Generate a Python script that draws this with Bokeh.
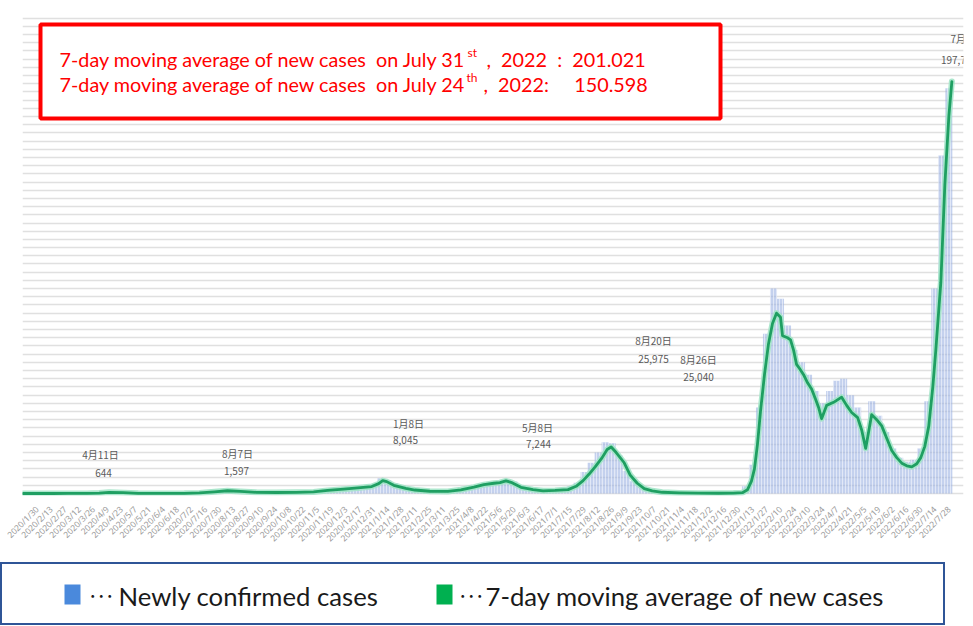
import datetime as dt
from bokeh.plotting import figure
from bokeh.models import (FixedTicker, SingleIntervalTicker, Range1d, Label, BoxAnnotation)
from bokeh.layouts import column, row
from bokeh.embed import file_html
from bokeh.resources import INLINE
from bokeh.core.properties import value
from math import pi

# ---------------- data ----------------
START = dt.date(2020, 1, 16)

# newly confirmed cases, one bar per week (centred on START + 7k)
bar_values = [
    1, 1, 3, 2, 10, 15, 20, 35, 50, 45, 110, 250, 600, 550, 400, 200, 90, 60, 30, 40,
    40, 50, 60, 100, 190, 330, 600, 950, 1450, 1550, 1200, 1050, 850, 650, 600, 580, 520, 600, 610, 650,
    720, 800, 1050, 1650, 2300, 2500, 2450, 2900, 3200, 3700, 4500, 7500, 6500, 5000, 3600, 2500, 1700, 1400, 1200, 1150,
    1300, 1500, 1900, 2600, 3300, 4300, 5200, 5600, 6000, 6900, 5800, 4000, 2800, 2100, 1700, 1750, 1900, 2300, 3400, 5200,
    10500, 15000, 20000, 25000, 24500, 18500, 11000, 6000, 3500, 1800, 1000, 700, 400, 280, 230, 200, 180, 130, 120, 150,
    200, 300, 700, 3500, 14000, 42000, 78000, 100000, 95000, 82000, 70000, 64000, 58000, 50000, 44000, 50000, 55000, 56000, 48000, 42000,
    30000, 45000, 38000, 30000, 22000, 17500, 15500, 16500, 22000, 45000, 100000, 165000, 197750,
]

# 7-day moving average of new cases
line_dates = [
    "2020-01-16", "2020-02-15", "2020-03-01", "2020-03-20", "2020-04-01", "2020-04-11", "2020-04-25",
    "2020-05-10", "2020-06-01", "2020-06-25", "2020-07-10", "2020-07-25", "2020-08-07", "2020-08-20",
    "2020-09-05", "2020-09-25", "2020-10-15", "2020-11-01", "2020-11-15", "2020-12-01", "2020-12-15",
    "2020-12-29", "2021-01-05", "2021-01-09", "2021-01-13", "2021-01-20", "2021-02-01", "2021-02-10",
    "2021-02-25", "2021-03-15", "2021-03-28", "2021-04-10", "2021-04-20", "2021-04-30", "2021-05-06",
    "2021-05-12", "2021-05-18", "2021-05-27", "2021-06-08", "2021-06-18", "2021-06-30", "2021-07-13",
    "2021-07-21", "2021-07-28", "2021-08-03", "2021-08-09", "2021-08-16", "2021-08-21", "2021-08-25",
    "2021-08-30", "2021-09-07", "2021-09-13", "2021-09-20", "2021-09-27", "2021-10-05", "2021-10-15",
    "2021-11-01", "2021-11-20", "2021-12-10", "2021-12-25", "2022-01-03", "2022-01-08", "2022-01-12",
    "2022-01-15", "2022-01-18", "2022-01-21", "2022-01-25", "2022-01-29", "2022-02-02", "2022-02-06",
    "2022-02-10", "2022-02-12", "2022-02-17", "2022-02-20", "2022-02-23", "2022-02-26", "2022-03-01",
    "2022-03-05", "2022-03-09", "2022-03-13", "2022-03-17", "2022-03-20", "2022-03-23", "2022-03-28",
    "2022-04-04", "2022-04-12", "2022-04-17", "2022-04-22", "2022-04-28", "2022-05-02", "2022-05-06",
    "2022-05-12", "2022-05-17", "2022-05-22", "2022-05-27", "2022-06-01", "2022-06-06", "2022-06-11",
    "2022-06-16", "2022-06-21", "2022-06-26", "2022-06-30", "2022-07-04", "2022-07-08", "2022-07-12",
    "2022-07-15", "2022-07-18", "2022-07-20", "2022-07-24", "2022-07-28", "2022-07-31",
]
line_values = [
    0, 5, 15, 40, 200, 560, 380,
    90, 40, 90, 300, 800, 1350, 1000,
    560, 500, 570, 750, 1500, 2100, 2700,
    3400, 4800, 6300, 5800, 4000, 2500, 1700,
    1100, 1000, 1800, 3100, 4300, 5000, 5300,
    6200, 5300, 3000, 1900, 1300, 1500, 1900,
    3500, 6300, 9500, 13000, 17500, 21500, 22700,
    20000, 15000, 9000, 5000, 2400, 1300, 600,
    300, 150, 130, 230, 400, 1800, 6000,
    12000, 24000, 40000, 58000, 73000, 83000, 88000,
    86000, 77000, 76000, 75000, 70000, 63000, 61000,
    58000, 54000, 51000, 46000, 42000, 36500, 43000,
    44500, 47000, 43000, 39500, 37000, 31000, 22000,
    38500, 36000, 33000, 27000, 21000, 17500, 14800,
    13500, 13000, 14500, 17500, 23000, 33000, 52000,
    70000, 90000, 103000, 150598, 184000, 201021,
]

# peak annotations (text shown on the chart)
ann_dates = ["4月11日", "8月7日", "1月8日", "5月8日", "8月20日", "8月26日"]
ann_counts = ["644", "1,597", "8,045", "7,244", "25,975", "25,040"]
last_date, last_count = "7月3", "197,75"

NB = "\u00a0"
box_line1 = ["7-day moving average of new cases" + NB + NB + "on July 31", "st",
             "," + NB + NB + "2022" + NB + NB + ":" + NB + NB + "201.021"]
box_line2 = ["7-day moving average of new cases" + NB + NB + "on July 24", "th",
             "," + NB + NB + "2022:" + NB + NB + NB + NB + NB + "150.598"]

legend_labels = ["Newly confirmed cases", "7-day moving average of new cases"]
legend_colors = ["#4a89dc", "#00b050"]

# ---------------- geometry (layout only) ----------------
FIG_W, FIG_H = 972, 562
MB_L, MB_R, MB_T = 22, 9, 12
FRAME_H = 483
MB_B = FIG_H - MB_T - FRAME_H
FL, FT = MB_L, MB_T
FW = FIG_W - MB_L - MB_R
X0 = -0.5
X1 = X0 + FW / 1.002
Y0 = -976
Y1 = Y0 + FRAME_H * 488
BASE_FIX = 8   # alphabetic-baseline correction of Label text in the svg output


def px(xp, yp):
    """page pixel -> data coordinates (annotation placement only)"""
    xd = X0 + (xp - FL) * (X1 - X0) / FW
    yd = Y1 - (yp - FT) * (Y1 - Y0) / FRAME_H
    return xd, yd


def day(s):
    return (dt.date.fromisoformat(s) - START).days


# ---------------- main figure ----------------
p = figure(width=FIG_W, height=FIG_H, output_backend="svg", toolbar_location=None,
           x_range=Range1d(X0, X1), y_range=Range1d(Y0, Y1),
           y_axis_location=None, min_border_left=MB_L, min_border_right=MB_R,
           min_border_top=MB_T, min_border_bottom=MB_B)
p.outline_line_color = None
p.background_fill_color = "white"
p.border_fill_color = "white"
p.xgrid.visible = False
p.ygrid.ticker = SingleIntervalTicker(interval=4000, num_minor_ticks=0)
p.ygrid.grid_line_color = "#e0e0e0"
p.ygrid.grid_line_width = 1.6

bar_x = [7 * k for k in range(len(bar_values))]
p.vbar(x=bar_x, top=bar_values, width=7, fill_color="#9db3e3", fill_alpha=0.6,
       line_color=None, hatch_pattern="|", hatch_color="white", hatch_alpha=0.5,
       hatch_scale=3, hatch_weight=1)

lx = [day(s) for s in line_dates]
p.line(lx, line_values, line_color="#a3e4c8", line_width=6, line_alpha=0.9,
       line_join="round", line_cap="round")
p.line(lx, line_values, line_color="#1f9f62", line_width=2.8,
       line_join="round", line_cap="round")

# x axis: date labels every 14 days
ticks = list(range(14, 925, 14))
p.xaxis.ticker = FixedTicker(ticks=ticks)
labels = {}
for t in ticks:
    d = START + dt.timedelta(days=t)
    labels[t] = f"{d.year}/{d.month}/{d.day}"
p.xaxis.major_label_overrides = labels
p.xaxis.major_label_orientation = pi / 4
p.xaxis.major_label_text_font_size = "8.5px"
p.xaxis.major_label_text_color = "#9a9a9a"
p.xaxis.major_label_text_font = "Noto Sans"
p.xaxis.axis_line_color = None
p.xaxis.major_tick_line_color = None
p.xaxis.minor_tick_line_color = None
p.xaxis.major_label_standoff = 6

# peak annotations
ann_px = [(100, 454, 103, 472), (237, 453, 236, 470), (408, 423, 405, 439),
          (537, 427, 538, 443), (653, 340, 653, 358), (698, 359, 698, 376)]
tx, ty, tt = [], [], []
for (a, b, c, d), t1, t2 in zip(ann_px, ann_dates, ann_counts):
    x1, y1 = px(a, b)
    x2, y2 = px(c, d)
    tx += [x1, x2]
    ty += [y1, y2]
    tt += [t1, t2]
p.text(x=tx, y=ty, text=tt, text_align="center", text_baseline="middle",
       text_font=value("Noto Sans CJK JP"), text_font_size="10px", text_color="#5a5a5a")

for txt, (xp, yp) in ((last_date, (971, 38)), (last_count, (971, 59))):
    xd, yd = px(xp, yp)
    p.add_layout(Label(x=xd, y=yd, text=txt, text_align="right", text_baseline="middle",
                       text_font="Noto Sans CJK JP", text_font_size="10px",
                       text_color="#5a5a5a"))

# red box
bl, bt = px(40, 24)
br, bb = px(720, 118)
p.add_layout(BoxAnnotation(left=bl, right=br, top=bt, bottom=bb, fill_color="white",
                           fill_alpha=1, line_color="#ff0000", line_alpha=1, line_width=4))

for line, base_y, xs in ((box_line1, 66, (59, 467, 486)), (box_line2, 91, (59, 466, 483))):
    for i, (piece, xp) in enumerate(zip(line, xs)):
        sup = (i == 1)
        xd, yd = px(xp, base_y - BASE_FIX - (6 if sup else 0))
        p.add_layout(Label(x=xd, y=yd, text=piece, text_font="Lato",
                           text_font_size="12px" if sup else "19.8px",
                           text_color="#ff0000", text_baseline="alphabetic",
                           text_align="left"))

# ---------------- legend figure ----------------
LW, LH = 945, 63
leg = figure(width=LW, height=LH, output_backend="svg", toolbar_location=None,
             x_range=Range1d(0, LW), y_range=Range1d(0, LH),
             x_axis_location=None, y_axis_location=None,
             min_border=0, min_border_left=0, min_border_right=0,
             min_border_top=0, min_border_bottom=0)
leg.xgrid.visible = False
leg.ygrid.visible = False
leg.outline_line_color = "#2f5597"
leg.outline_line_width = 3
leg.background_fill_color = "white"
leg.border_fill_color = "white"

key_x = [64, 436]
dot_dx = [24, 22]
txt_dx = [54, 49]
for kx, ddx, tdx, col, lab in zip(key_x, dot_dx, txt_dx, legend_colors, legend_labels):
    leg.add_layout(BoxAnnotation(left=kx, right=kx + 16, bottom=21, top=41,
                                 fill_color=col, fill_alpha=1, line_color=None))
    leg.add_layout(Label(x=kx + ddx, y=22 + BASE_FIX, text="･･･", text_font="Noto Sans CJK JP",
                         text_font_size="17px", text_color="#1a1a1a",
                         text_baseline="alphabetic"))
    leg.add_layout(Label(x=kx + tdx, y=22 + BASE_FIX, text=lab, text_font="Lato",
                         text_font_size="25.7px", text_color="#1a1a1a",
                         text_baseline="alphabetic"))

layout = column(p, row(leg), spacing=0)
open("out.html", "w").write(file_html(layout, INLINE))
